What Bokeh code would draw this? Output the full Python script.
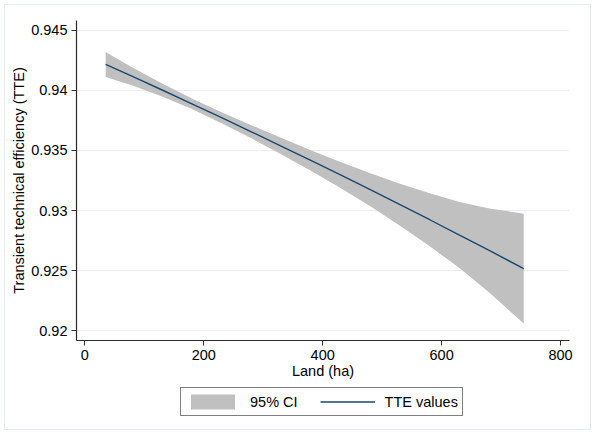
from bokeh.plotting import figure
from bokeh.layouts import column
from bokeh.models import ColumnDataSource, FixedTicker, Legend, LegendItem
from bokeh.embed import file_html
from bokeh.resources import INLINE

# Fitted TTE against land holding, with its 95% confidence band
land_ha = [35, 80, 130, 180, 230, 280, 330, 380, 430, 480, 530, 580, 630, 680, 738]
tte_fit = [0.94217, 0.94117, 0.94004, 0.93889, 0.93773, 0.93656, 0.93537, 0.93417,
           0.93296, 0.93173, 0.93048, 0.92923, 0.92795, 0.92667, 0.92516]
ci_upper = [0.94321, 0.94192, 0.94058, 0.93933, 0.93819, 0.93711, 0.93606, 0.93503,
            0.93404, 0.93311, 0.93223, 0.93144, 0.93070, 0.93017, 0.92974]
ci_lower = [0.94113, 0.94042, 0.93950, 0.93845, 0.93727, 0.93601, 0.93468, 0.93331,
            0.93188, 0.93036, 0.92873, 0.92702, 0.92520, 0.92317, 0.92058]

x_ticks = [0, 200, 400, 600, 800]
y_ticks = [0.92, 0.925, 0.93, 0.935, 0.94, 0.945]
y_tick_labels = ["0.92", "0.925", "0.93", "0.935", "0.94", "0.945"]

FONT = "Liberation Sans"
LINE_COLOR = "#1a476f"
BAND_COLOR = "#c0c0c0"
AXIS_COLOR = "#2b2b2b"

src = ColumnDataSource(dict(x=land_ha, fit=tte_fit, lo=ci_lower, hi=ci_upper))

p = figure(width=595, height=385, output_backend="svg", toolbar_location=None,
           x_range=(-14, 815), y_range=(0.91917, 0.94583))
p.min_border_left = 76
p.min_border_right = 26
p.min_border_top = 20
p.min_border_bottom = 45
p.outline_line_color = None
p.background_fill_color = None
p.border_fill_color = None

p.varea(x="x", y1="lo", y2="hi", source=src, fill_color=BAND_COLOR, fill_alpha=1.0)
p.line(x="x", y="fit", source=src, line_color=LINE_COLOR, line_width=1.4)

# axes
p.xaxis.ticker = FixedTicker(ticks=x_ticks)
p.yaxis.ticker = FixedTicker(ticks=y_ticks)
p.yaxis.major_label_overrides = {t: s for t, s in zip(y_ticks, y_tick_labels)}
p.yaxis.major_label_orientation = "horizontal"
for ax in (p.xaxis, p.yaxis):
    ax.axis_line_color = AXIS_COLOR
    ax.axis_line_width = 1.2
    ax.major_tick_line_color = AXIS_COLOR
    ax.major_tick_out = 5
    ax.major_tick_in = 0
    ax.minor_tick_line_color = None
    ax.major_label_text_font = FONT
    ax.major_label_text_font_size = "14.5px"
    ax.major_label_text_color = "black"
    ax.axis_label_text_font = FONT
    ax.axis_label_text_font_size = "14.5px"
    ax.axis_label_text_font_style = "normal"
    ax.axis_label_text_color = "black"
p.xaxis.axis_label = "Land (ha)"
p.yaxis.axis_label = "Transient technical efficiency (TTE)"
p.xaxis.major_label_standoff = 4
p.xaxis.axis_label_standoff = 0
p.yaxis.major_label_standoff = 4
p.yaxis.axis_label_standoff = 1

# grid
p.xgrid.grid_line_color = None
p.ygrid.grid_line_color = "#e6eff1"
p.ygrid.grid_line_width = 1

# legend strip under the plot; its key renderers reuse the series but lie
# outside this strip's (0, 1) ranges, so only the legend keys show.
# The column aligns this strip's frame with the main plot's frame.
leg = figure(width=595, height=49, output_backend="svg", toolbar_location=None,
             x_range=(0, 1), y_range=(0, 1), min_border=0,
             x_axis_location=None, y_axis_location=None)
leg.grid.visible = False
leg.outline_line_color = None
leg.background_fill_color = None
leg.border_fill_color = None
key_band = leg.varea(x="x", y1="lo", y2="hi", source=src, fill_color=BAND_COLOR, fill_alpha=1.0)
key_line = leg.line(x="x", y="fit", source=src, line_color=LINE_COLOR, line_width=1.4)

legend = Legend(items=[LegendItem(label="95% CI", renderers=[key_band]),
                       LegendItem(label="TTE values", renderers=[key_line])],
                orientation="horizontal", location=(104, 18))
legend.label_text_font = FONT
legend.label_text_font_size = "14.5px"
legend.label_text_color = "black"
legend.glyph_width = 55
legend.glyph_height = 19
legend.label_standoff = 10
legend.spacing = 22
legend.padding = 4
legend.margin = 0
legend.border_line_color = "black"
legend.border_line_width = 1
legend.background_fill_color = "white"
leg.add_layout(legend, "center")

page = column(p, leg, spacing=0,
              styles={"outline": "1px solid #e3ecef", "outline-offset": "-5px",
                      "background-color": "white"})

open("out.html", "w").write(file_html(page, INLINE))
